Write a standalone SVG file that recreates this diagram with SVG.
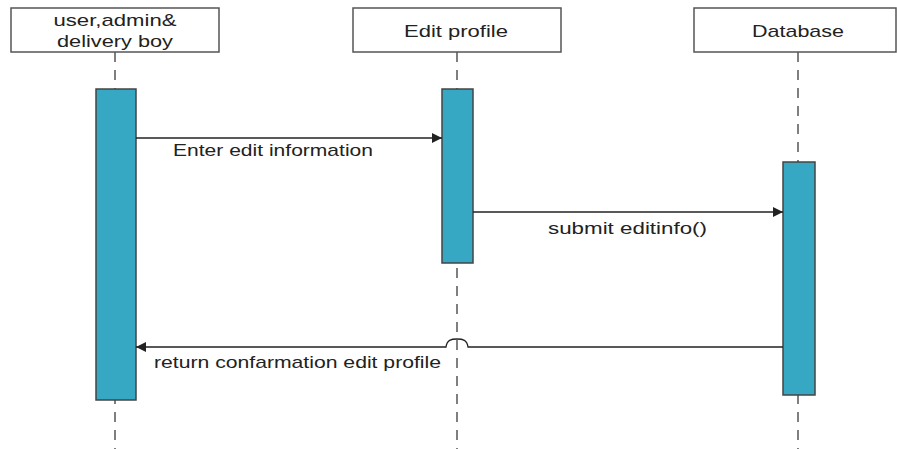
<svg xmlns="http://www.w3.org/2000/svg" width="897" height="449" viewBox="0 0 897 449">
<defs>
<style>
.head{fill:#fff;stroke:#555;stroke-width:1.5}
.life{stroke:#555;stroke-width:1.5;stroke-dasharray:10 8;fill:none}
.act{fill:#37a8c3;stroke:#444;stroke-width:1.5}
.msg{stroke:#222;stroke-width:1.3;fill:none}
text{font-family:"Liberation Sans",Arial,sans-serif;font-size:17px;fill:#222}
</style>
<marker id="arr" viewBox="0 0 10 10" refX="10" refY="5" markerWidth="10" markerHeight="10" markerUnits="userSpaceOnUse" orient="auto">
<path d="M0,0 L10,5 L0,10 z" fill="#222"/>
</marker>
</defs>
<g id="lifelines">
<line class="life" x1="115" y1="52" x2="115" y2="449"/>
<line class="life" x1="457" y1="52" x2="457" y2="449"/>
<line class="life" x1="798" y1="52" x2="798" y2="449"/>
</g>
<g id="user">
<rect class="head" x="11" y="8" width="208" height="44"/>
<text x="115" y="26" text-anchor="middle" textLength="123" lengthAdjust="spacingAndGlyphs">user,admin&amp;</text>
<text x="115" y="47" text-anchor="middle" textLength="116" lengthAdjust="spacingAndGlyphs">delivery boy</text>
<rect class="act" x="96" y="89" width="40" height="311"/>
</g>
<g id="editprofile">
<rect class="head" x="353" y="8" width="208" height="44"/>
<text x="456" y="37" text-anchor="middle" textLength="104" lengthAdjust="spacingAndGlyphs">Edit profile</text>
<rect class="act" x="442" y="89" width="31" height="174"/>
</g>
<g id="database">
<rect class="head" x="694" y="8" width="202" height="44"/>
<text x="798" y="37" text-anchor="middle" textLength="92" lengthAdjust="spacingAndGlyphs">Database</text>
<rect class="act" x="783" y="162" width="32" height="233"/>
</g>
<g id="connectors">
<line class="msg" x1="136" y1="138" x2="442" y2="138" marker-end="url(#arr)"/>
<text x="173" y="156" textLength="200" lengthAdjust="spacingAndGlyphs">Enter edit information</text>
<line class="msg" x1="473" y1="212" x2="783" y2="212" marker-end="url(#arr)"/>
<text x="548" y="234" textLength="159" lengthAdjust="spacingAndGlyphs">submit editinfo()</text>
<path class="msg" d="M783,347 H468 C467,340 463,339 457,339 C451,339 447,340 446,347 H136" marker-end="url(#arr)"/>
<text x="154" y="368" textLength="287" lengthAdjust="spacingAndGlyphs">return confarmation edit profile</text>
</g>
</svg>
